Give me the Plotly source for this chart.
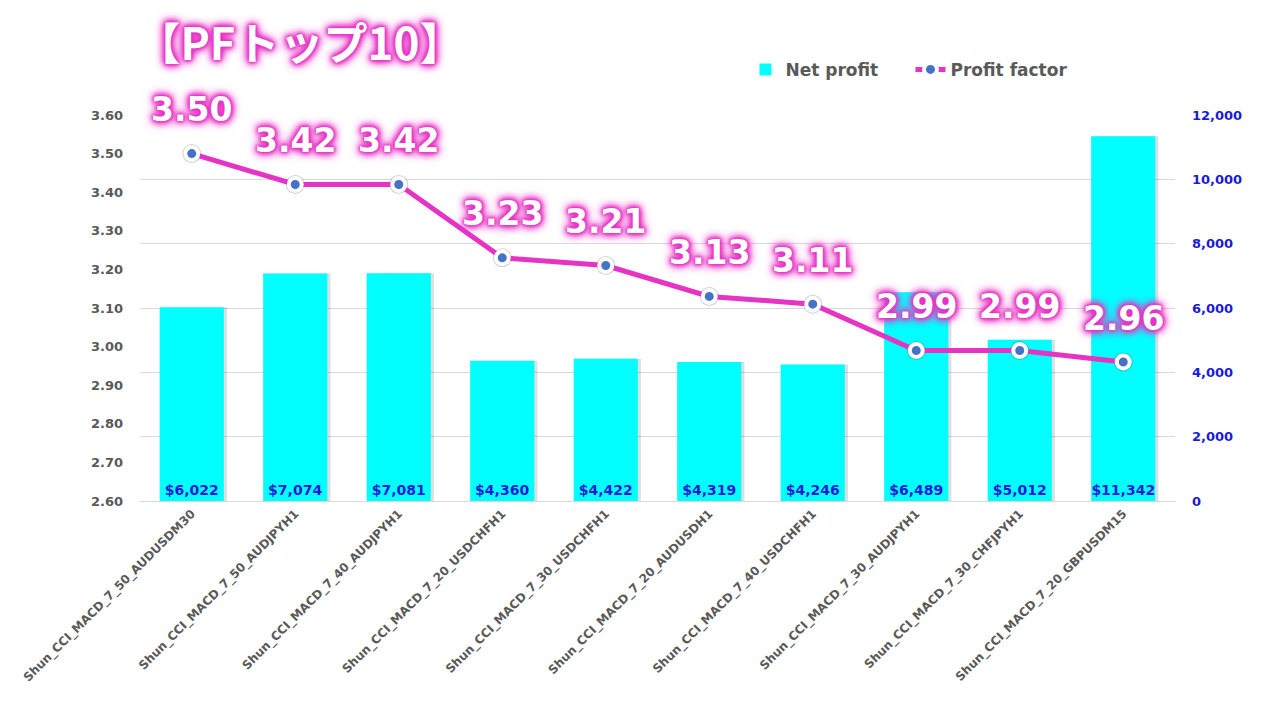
import plotly.graph_objects as go

categories = [
    "Shun_CCI_MACD_7_50_AUDUSDM30",
    "Shun_CCI_MACD_7_50_AUDJPYH1",
    "Shun_CCI_MACD_7_40_AUDJPYH1",
    "Shun_CCI_MACD_7_20_USDCHFH1",
    "Shun_CCI_MACD_7_30_USDCHFH1",
    "Shun_CCI_MACD_7_20_AUDUSDH1",
    "Shun_CCI_MACD_7_40_USDCHFH1",
    "Shun_CCI_MACD_7_30_AUDJPYH1",
    "Shun_CCI_MACD_7_30_CHFJPYH1",
    "Shun_CCI_MACD_7_20_GBPUSDM15",
]
net_profit = [6022, 7074, 7081, 4360, 4422, 4319, 4246, 6489, 5012, 11342]
profit_factor = [3.50, 3.42, 3.42, 3.23, 3.21, 3.13, 3.11, 2.99, 2.99, 2.96]
pf_ticks = [2.6, 2.7, 2.8, 2.9, 3.0, 3.1, 3.2, 3.3, 3.4, 3.5, 3.6]
np_ticks = [0, 2000, 4000, 6000, 8000, 10000, 12000]

MAGENTA = "#e633c4"
GLOW = ("0 0 2px #e633c4, 0 0 3px #e633c4, 0 0 4px #e633c4, 0 0 6px #e633c4, "
        "0 0 8px #e633c4, 0 0 10px #e633c4, 0 0 12px #ee66d4")
FONT = "DejaVu Sans"
BW = 0.62

fig = go.Figure()

# soft shadow behind bars
fig.add_trace(go.Bar(
    x=categories, y=net_profit, yaxis="y", showlegend=False, hoverinfo="skip",
    marker=dict(color="rgba(0,0,0,0.13)", line=dict(width=0)),
    width=BW, offset=-BW / 2 + 0.03,
))

fig.add_trace(go.Bar(
    x=categories, y=net_profit, name="Net profit", yaxis="y",
    marker=dict(color="#00ffff", line=dict(width=0)),
    width=BW, offset=-BW / 2,
    text=["${:,}".format(v) for v in net_profit],
    textposition="inside", insidetextanchor="start",
    textangle=0, constraintext="none",
    textfont=dict(family=FONT, size=14, color="#1a1adb", weight="bold"),
    cliponaxis=False,
))

# faint halo behind markers
fig.add_trace(go.Scatter(
    x=categories, y=profit_factor, yaxis="y2", mode="markers",
    showlegend=False, hoverinfo="skip",
    marker=dict(size=19, color="rgba(0,0,0,0.18)", line=dict(width=0)),
))

fig.add_trace(go.Scatter(
    x=categories, y=profit_factor, name="Profit factor", yaxis="y2",
    mode="lines+markers",
    line=dict(color=MAGENTA, width=5),
    marker=dict(size=13, color="#4472c4", line=dict(color="white", width=4)),
))

for c, v in zip(categories, profit_factor):
    fig.add_annotation(
        x=c, y=v, xref="x", yref="y2", yshift=44,
        text="{:.2f}".format(v), showarrow=False,
        font=dict(family=FONT, size=33, color="white", weight="bold", shadow=GLOW),
    )

fig.update_layout(
    width=1271, height=713,
    paper_bgcolor="white", plot_bgcolor="white",
    margin=dict(l=132, r=104, t=107, b=220),
    barmode="overlay",
    title=dict(
        text="【PFトップ10】", x=0.2297, xanchor="center", y=0.948, yanchor="middle",
        font=dict(family="Noto Sans CJK JP", size=44, color="white", weight="bold", shadow=GLOW),
    ),
    legend=dict(
        orientation="h", x=0.585, xanchor="left", y=1.117, yanchor="middle",
        font=dict(family=FONT, size=17, color="#595959", weight="bold"),
        bgcolor="rgba(0,0,0,0)", itemwidth=30, traceorder="normal",
        entrywidth=120, entrywidthmode="pixels",
    ),
    xaxis=dict(
        range=[-0.5, len(categories) - 0.5],
        tickangle=-45, showgrid=False, showline=True, linecolor="#d9d9d9",
        tickfont=dict(family=FONT, size=12, color="#595959", weight="bold"),
        ticks="",
    ),
    yaxis=dict(
        side="right", range=[0, 12000], tickvals=np_ticks, tickformat=",",
        showgrid=True, gridcolor="#d9d9d9", zeroline=False, showline=False,
        tickfont=dict(family=FONT, size=13, color="#1a1adb", weight="bold"),
        ticklabelstandoff=16,
    ),
    yaxis2=dict(
        side="left", overlaying="y", range=[2.6, 3.6], tickvals=pf_ticks, tickformat=".2f",
        showgrid=False, zeroline=False, showline=False,
        tickfont=dict(family=FONT, size=13, color="#595959", weight="bold"),
        ticklabelstandoff=16,
    ),
)

fig.write_html("out.html")
